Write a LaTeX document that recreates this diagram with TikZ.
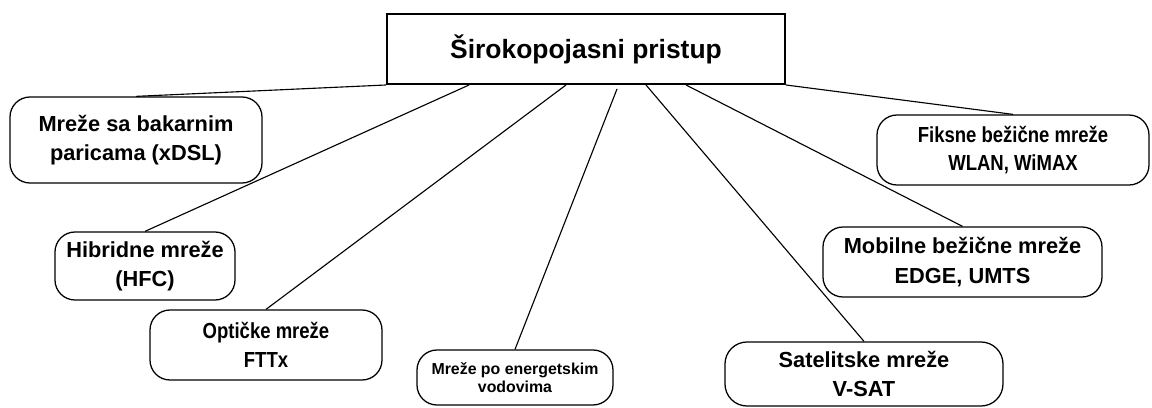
\documentclass[tikz,border=0pt]{standalone}
\usepackage{fontspec}
\setmainfont{Liberation Sans}
\newfontfamily\condensedsans[FakeStretch=0.85]{Liberation Sans}
\usetikzlibrary{calc}

\begin{document}
\begin{tikzpicture}[
  root/.style={draw,line width=1.4pt,minimum width=9.95cm,minimum height=1.75cm,inner sep=0pt,font=\fontsize{18.8}{22}\selectfont\bfseries},
  leaf/.style={draw,line width=0.9pt,rounded corners=0.5cm,align=center,inner sep=0pt,font=\fontsize{15.5}{21}\selectfont\bfseries},
  branch/.style={line width=0.8pt}]
\newcommand{\narrowfont}{\condensedsans\fontsize{15.5}{20.5}\selectfont\bfseries}
\newcommand{\smallfont}{\fontsize{11.3}{13}\selectfont\bfseries}
\useasboundingbox (0,0) rectangle (28.8,10.175);
\node[root] (top) at (14.65,8.95) {Širokopojasni pristup};
\node[leaf,minimum width=6.3cm,minimum height=2.15cm] (xdsl) at (3.4,6.675) {Mreže sa bakarnim\\paricama (xDSL)};
\node[leaf,minimum width=4.5cm,minimum height=1.7cm] (hfc) at (3.625,3.525) {Hibridne mreže\\(HFC)};
\node[leaf,minimum width=5.8cm,minimum height=1.75cm,font=\narrowfont] (fttx) at (6.65,1.55) {Optičke mreže\\FTTx};
\node[leaf,minimum width=4.9cm,minimum height=1.375cm,font=\smallfont] (plc) at (12.875,0.7375) {Mreže po energetskim\\vodovima};
\node[leaf,minimum width=6.95cm,minimum height=1.6cm,rounded corners=0.55cm] (vsat) at (21.6,0.825) {Satelitske mreže\\V-SAT};
\node[leaf,minimum width=6.975cm,minimum height=1.75cm] (umts) at (24.0625,3.625) {Mobilne bežične mreže\\EDGE, UMTS};
\node[leaf,minimum width=6.8cm,minimum height=1.75cm,font=\narrowfont] (wimax) at (25.325,6.425) {Fiksne bežične mreže\\WLAN, WiMAX};
\coordinate (s1) at ($(top.south west)+(2.075,0)$);
\coordinate (s2) at ($(top.south west)+(4.5,0)$);
\coordinate (s3) at ($(top.south west)+(5.775,-0.1)$);
\coordinate (s4) at ($(top.south west)+(6.5,0)$);
\coordinate (s5) at ($(top.south west)+(7.5,0)$);
\draw [branch] (top.south west) -- (xdsl.north);
\draw [branch] (s1) -- (hfc.north);
\draw [branch] (s2) -- (fttx.north);
\draw [branch] (s3) -- (plc.north);
\draw [branch] (s4) -- (vsat.north);
\draw [branch] (s5) -- (umts.north);
\draw [branch] (top.south east) -- (wimax.north);
\end{tikzpicture}
\end{document}
